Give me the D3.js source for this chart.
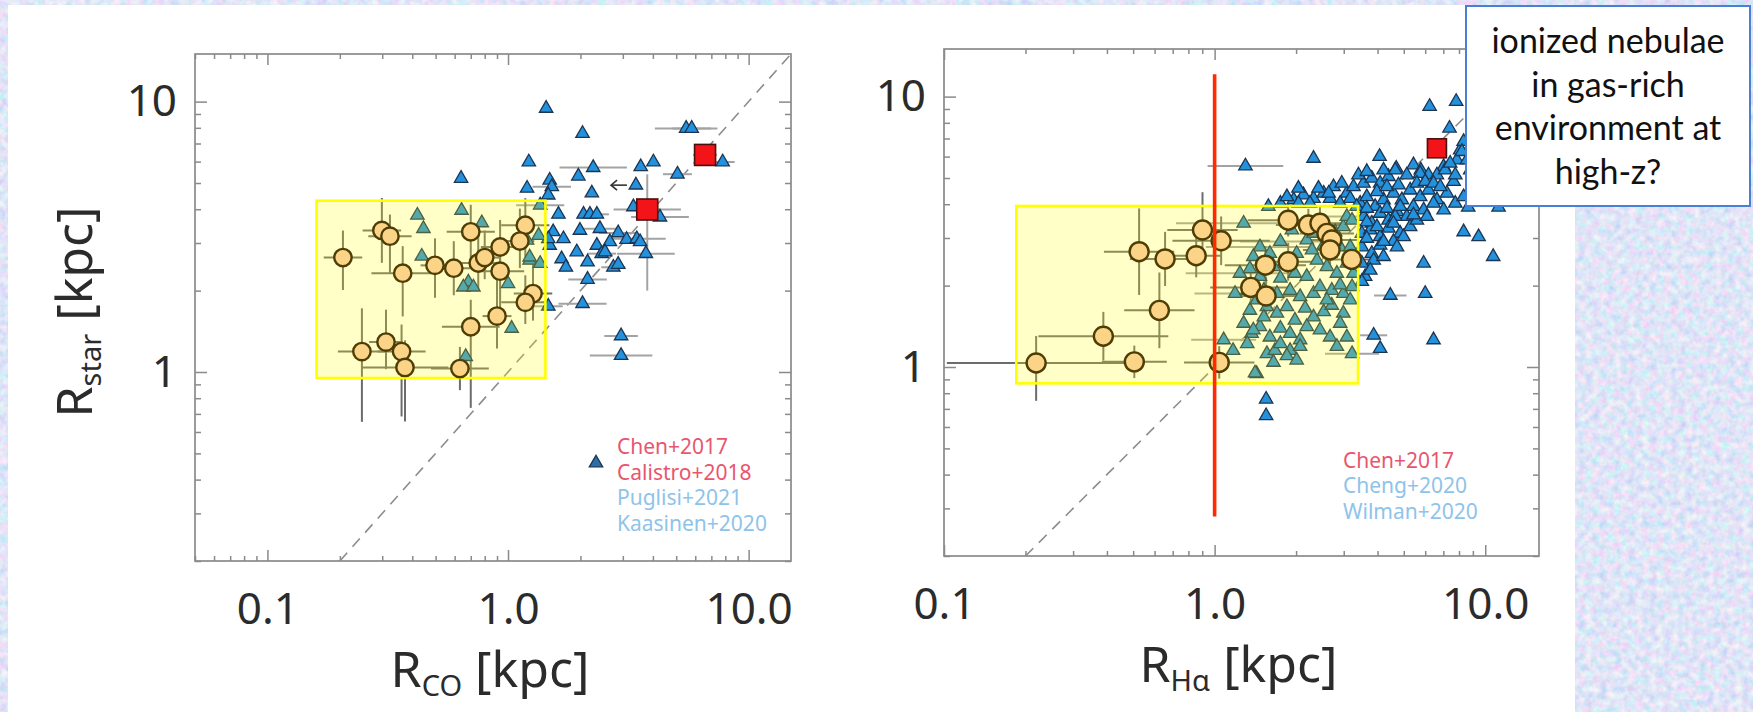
<!DOCTYPE html>
<html>
<head>
  <meta charset="utf-8">
  <title></title>
  <style>
    body { margin: 0; background: #fff; }
    svg { display: block; }
  </style>
  <script src="https://d3js.org/d3.v7.min.js"></script>
</head>
<body>
<svg id="chart" width="1753" height="712"></svg>

<script>
// tick labels, shared by both panels
var xTickVals = [0.1, 1, 10];
var xTickText = ["0.1", "1.0", "10.0"];
var yTickVals = [1, 10];
var yTickText = ["1", "10"];

// ---- left panel: R_CO vs R_star ----
// circles: [R_CO, R_star, x err (dex), y err up (dex), y err down (dex)]
var coCircles = [
  [0.206, 2.65, 0.08, 0.10, 0.12], [0.299, 3.34, 0.08, 0.12, 0.12], [0.323, 3.18, 0.09, 0.08, 0.14],
  [0.365, 2.32, 0.13, 0.10, 0.16], [0.497, 2.48, 0.06, 0.10, 0.12], [0.595, 2.42, 0.07, 0.10, 0.10],
  [0.70, 3.30, 0.10, 0.10, 0.12], [0.752, 2.53, 0.10, 0.12, 0.10], [0.80, 2.65, 0.06, 0.10, 0.08],
  [0.927, 2.90, 0.08, 0.10, 0.10], [0.927, 2.36, 0.10, 0.08, 0.14], [1.18, 3.49, 0.10, 0.10, 0.12],
  [1.12, 3.05, 0.06, 0.12, 0.10], [1.27, 1.95, 0.08, 0.12, 0.10], [1.18, 1.81, 0.10, 0.10, 0.08],
  [0.90, 1.61, 0.06, 0.18, 0.12], [0.70, 1.47, 0.12, 0.10, 0.30], [0.247, 1.19, 0.10, 0.16, 0.26],
  [0.311, 1.29, 0.07, 0.12, 0.10], [0.361, 1.19, 0.10, 0.10, 0.24], [0.373, 1.04, 0.18, 0.10, 0.20],
  [0.631, 1.03, 0.12, 0.08, 0.08]
];
// triangles: [R_CO, R_star, x err (dex)]
var coTriangles = [
  [1.44, 9.44, 0], [2.04, 7.62, 0], [0.638, 5.20, 0], [1.22, 5.98, 0], [2.26, 5.70, 0.14], [1.96, 5.30, 0],
  [3.56, 5.74, 0], [4.02, 5.98, 0], [5.06, 5.39, 0.06], [7.80, 5.98, 0.05], [5.50, 7.96, 0.13], [5.80, 7.96, 0.08],
  [1.20, 4.78, 0], [1.49, 5.12, 0], [1.52, 4.84, 0.08], [1.47, 4.51, 0], [2.23, 4.59, 0], [3.40, 4.91, 0],
  [1.36, 4.14, 0.1], [1.62, 3.83, 0], [2.06, 3.83, 0], [2.19, 3.83, 0], [2.34, 3.83, 0.05], [3.32, 4.08, 0],
  [4.28, 3.74, 0.12], [2.41, 3.39, 0.08], [1.99, 3.34, 0], [1.54, 3.30, 0], [1.70, 3.11, 0], [1.49, 2.94, 0],
  [2.87, 3.27, 0.08], [2.65, 3.03, 0], [3.11, 3.09, 0], [3.43, 3.11, 0.12], [3.54, 3.03, 0], [2.34, 2.94, 0],
  [1.93, 2.78, 0], [2.45, 2.74, 0.06], [2.53, 2.78, 0], [3.74, 2.74, 0.12], [1.67, 2.62, 0], [1.74, 2.44, 0],
  [2.14, 2.55, 0], [2.74, 2.44, 0.05], [2.87, 2.50, 0], [2.14, 2.20, 0.08], [1.47, 1.75, 0.06], [2.04, 1.79, 0.1],
  [2.95, 1.36, 0.07], [2.95, 1.15, 0.13], [1.23, 2.59, 0], [1.36, 2.52, 0], [1.47, 3.11, 0],
  [0.42, 3.80, 0], [0.445, 3.39, 0], [0.641, 3.96, 0], [0.778, 3.56, 0], [0.438, 2.68, 0], [0.684, 2.15, 0],
  [0.652, 2.06, 0], [0.718, 2.06, 0], [1.00, 2.12, 0], [1.035, 1.45, 0], [1.23, 2.66, 0], [0.667, 1.14, 0],
  [1.20, 3.07, 0], [1.34, 3.20, 0]
];
// squares: [R_CO, R_star, x err, y err up, y err down] (dex)
var coSquares = [[6.59, 6.35, 0.05, 0.02, 0.02], [3.79, 3.99, 0.14, 0.13, 0.30]];
// upper limit arrow: [R_CO, R_star, arrow tip R_CO]
var coLimits = [[3.40, 4.91, 2.68]];
var coBox = [0.16, 1.43, 0.95, 4.3];
var coLegend = ["Chen+2017", "Calistro+2018", "Puglisi+2021", "Kaasinen+2020"];

// ---- right panel: R_Halpha vs R_star ----
var haCircles = [
  [0.219, 1.035, 0.33, 0.10, 0.14], [0.388, 1.30, 0.24, 0.09, 0.09], [0.505, 1.045, 0.12, 0.06, 0.06],
  [0.625, 1.62, 0.13, 0.14, 0.14], [0.526, 2.67, 0.13, 0.16, 0.16], [0.656, 2.51, 0.13, 0.10, 0.10],
  [0.855, 2.58, 0.09, 0.08, 0.08], [0.902, 3.21, 0.13, 0.14, 0.07], [1.057, 2.93, 0.18, 0.09, 0.09],
  [1.04, 1.04, 0.13, 0.06, 0.06], [1.54, 2.38, 0.15, 0.07, 0.07], [1.87, 2.45, 0.12, 0.07, 0.07],
  [1.36, 1.97, 0.15, 0.08, 0.08], [1.55, 1.83, 0.12, 0.07, 0.07], [1.87, 3.49, 0.15, 0.06, 0.06],
  [2.22, 3.35, 0.12, 0.06, 0.06], [2.45, 3.40, 0.12, 0.06, 0.06], [2.60, 3.12, 0.10, 0.06, 0.06],
  [2.71, 2.95, 0.10, 0.06, 0.06], [2.67, 2.71, 0.10, 0.06, 0.06], [3.21, 2.50, 0.10, 0.06, 0.06]
];
var haTriangles = [
  [6.23, 9.19, 0], [7.81, 9.59, 0], [7.38, 7.64, 0], [2.32, 5.91, 0], [4.07, 6.00, 0], [1.30, 5.54, 0.14],
  [4.69, 5.43, 0], [5.43, 5.59, 0], [5.78, 5.35, 0], [6.17, 5.13, 0], [7.02, 5.51, 0], [7.86, 5.83, 0],
  [8.08, 6.35, 0], [8.32, 6.82, 0],
  [1.96, 4.15, 0], [2.13, 4.33, 0], [2.32, 4.20, 0], [2.53, 4.39, 0], [2.75, 4.64, 0], [3.08, 4.39, 0],
  [3.26, 4.64, 0], [3.55, 4.78, 0], [3.81, 4.99, 0], [4.09, 4.78, 0], [4.39, 5.06, 0], [4.65, 5.35, 0],
  [5.13, 5.13, 0], [5.75, 5.20, 0], [6.63, 5.13, 0], [7.11, 5.35, 0], [7.42, 5.67, 0], [8.20, 6.26, 0],
  [3.45, 4.03, 0], [3.65, 4.26, 0], [3.92, 3.92, 0], [4.21, 4.15, 0], [4.58, 4.39, 0], [4.92, 4.15, 0],
  [5.28, 4.51, 0], [5.75, 4.26, 0], [6.17, 4.51, 0], [6.63, 4.15, 0], [7.22, 4.39, 0], [7.75, 4.03, 0],
  [8.32, 4.26, 0], [3.55, 3.60, 0], [3.81, 3.40, 0], [4.09, 3.70, 0], [4.39, 3.49, 0], [4.72, 3.75, 0],
  [5.13, 3.60, 0], [5.43, 3.92, 0], [5.92, 3.81, 0], [6.44, 4.03, 0], [3.50, 3.12, 0], [3.76, 3.21, 0],
  [4.09, 3.03, 0], [4.39, 3.26, 0], [4.85, 3.12, 0], [5.28, 3.30, 0], [5.59, 3.49, 0], [3.50, 2.78, 0],
  [3.81, 2.63, 0], [4.09, 2.82, 0], [4.58, 2.91, 0], [4.99, 3.03, 0], [3.50, 2.42, 0], [3.87, 2.48, 0],
  [4.21, 2.56, 0], [3.60, 2.16, 0], [3.50, 2.07, 0], [5.92, 2.42, 0], [8.32, 3.16, 0], [9.45, 3.03, 0],
  [10.7, 2.56, 0], [4.46, 1.84, 0.06], [6.00, 1.87, 0], [3.87, 1.31, 0.05], [4.09, 1.17, 0], [6.44, 1.26, 0],
  [2.04, 4.03, 0], [2.25, 4.03, 0], [2.67, 4.20, 0], [2.91, 4.03, 0], [3.17, 4.20, 0], [3.35, 3.92, 0],
  [2.04, 4.58, 0], [2.42, 4.58, 0], [2.64, 4.39, 0], [2.95, 4.78, 0], [3.40, 5.13, 0], [3.65, 5.28, 0],
  [4.21, 5.35, 0], [3.98, 4.45, 0], [4.33, 4.64, 0], [4.78, 4.71, 0], [5.59, 4.78, 0], [6.00, 4.85, 0],
  [6.44, 4.78, 0], [6.82, 4.64, 0], [7.64, 4.85, 0], [7.75, 5.13, 0], [8.56, 5.83, 0], [8.80, 5.35, 0],
  [3.65, 3.86, 0], [4.33, 3.86, 0], [4.65, 3.60, 0], [4.85, 3.92, 0], [5.43, 3.65, 0], [6.09, 3.60, 0],
  [7.02, 3.81, 0], [3.65, 3.44, 0], [3.98, 3.30, 0], [4.58, 3.40, 0], [4.21, 2.91, 0], [3.65, 2.99, 0],
  [4.72, 2.78, 0], [3.76, 2.28, 0], [1.75, 4.03, 0], [1.58, 3.92, 0], [1.85, 4.26, 0], [8.65, 3.90, 0],
  [11.2, 3.90, 0],
  [1.28, 3.40, 0.25], [1.47, 2.78, 0.2], [1.75, 2.91, 0.15], [1.93, 3.21, 0], [2.19, 2.95, 0], [2.32, 3.12, 0],
  [2.53, 2.82, 0], [2.79, 3.16, 0], [2.99, 3.30, 0], [3.08, 3.60, 0.1], [3.22, 3.49, 0], [1.24, 2.22, 0.2],
  [1.35, 2.31, 0], [1.47, 2.16, 0], [1.65, 2.35, 0], [1.75, 2.13, 0], [1.98, 2.22, 0], [2.19, 2.16, 0],
  [2.39, 2.48, 0], [2.60, 2.35, 0], [2.83, 2.22, 0], [3.08, 2.42, 0], [3.26, 2.22, 0], [1.19, 1.87, 0.15],
  [1.32, 1.92, 0], [1.52, 1.92, 0], [1.70, 1.87, 0], [1.90, 1.92, 0], [2.07, 1.82, 0], [2.32, 1.87, 0],
  [2.45, 1.98, 0], [2.71, 1.92, 0], [2.99, 1.87, 0], [3.22, 1.98, 0], [1.35, 1.62, 0], [1.56, 1.67, 0],
  [1.70, 1.58, 0], [1.85, 1.67, 0], [2.16, 1.65, 0], [2.32, 1.53, 0], [2.53, 1.60, 0], [2.71, 1.69, 0],
  [2.99, 1.58, 0], [3.17, 1.77, 0], [1.08, 1.26, 0.12], [1.37, 1.33, 0], [1.47, 1.41, 0], [1.60, 1.29, 0],
  [1.75, 1.39, 0], [1.90, 1.33, 0], [2.07, 1.26, 0], [2.19, 1.41, 0], [2.45, 1.37, 0], [2.67, 1.29, 0],
  [2.91, 1.45, 0], [1.17, 1.15, 0], [1.32, 1.22, 0], [1.56, 1.12, 0], [1.67, 1.15, 0], [1.90, 1.15, 0],
  [2.07, 1.19, 0], [1.43, 0.945, 0], [1.85, 1.10, 0], [2.01, 1.06, 0], [3.22, 1.12, 0.1], [2.83, 1.19, 0],
  [1.41, 0.95, 0], [1.39, 1.37, 0], [1.55, 0.76, 0], [1.55, 0.66, 0],
  [1.39, 2.56, 0], [1.60, 2.63, 0], [1.85, 2.48, 0], [2.01, 2.63, 0], [2.29, 2.71, 0], [2.67, 2.63, 0],
  [2.91, 2.78, 0], [3.17, 2.78, 0], [1.52, 1.53, 0], [1.98, 1.49, 0], [1.43, 1.77, 0], [2.60, 1.77, 0],
  [2.91, 2.01, 0], [1.75, 1.22, 0], [3.08, 1.29, 0], [1.28, 1.45, 0], [1.65, 1.04, 0]
];
var haSquares = [[6.63, 6.44, 0, 0, 0]];
var haBox = [0.185, 3.39, 0.87, 3.94];
// red cut: [R_Halpha, R_star from, R_star to]
var haCut = [1.0, 0.28, 12.1];
var haLegend = ["Chen+2017", "Cheng+2020", "Wilman+2020"];

var noteLines = ["ionized nebulae", "in gas-rich", "environment at", "high-z?"];

var red = "#e8566e", lightBlue = "#8ec3ea";

var svg = d3.select("#chart");
var defs = svg.append("defs");

// mottled slide background
var tex = defs.append("filter").attr("id", "tex")
    .attr("x", 0).attr("y", 0).attr("width", "100%").attr("height", "100%");
tex.append("feTurbulence").attr("type", "fractalNoise")
    .attr("baseFrequency", "0.14").attr("numOctaves", 3).attr("seed", 7);
tex.append("feColorMatrix").attr("type", "matrix")
    .attr("values", "0.75 0 0 0 0.37  0 0.45 0 0 0.56  0 0 0.14 0 0.86  0 0 0 0 1");

svg.append("rect").attr("width", 1753).attr("height", 712).attr("filter", "url(#tex)");
svg.append("rect").attr("x", 8).attr("y", 5).attr("width", 1567).attr("height", 707).attr("fill", "#fff");

var tri = d3.symbol().type(d3.symbolTriangle).size(78);

function drawPanel(p) {
  var x = d3.scaleLog().domain(p.xDomain).range([p.left, p.right]);
  var y = d3.scaleLog().domain(p.yDomain).range([p.bottom, p.top]);
  var g = svg.append("g");

  defs.append("clipPath").attr("id", "clip-" + p.id)
    .append("rect")
      .attr("x", p.left).attr("y", p.top)
      .attr("width", p.right - p.left).attr("height", p.bottom - p.top);

  var plot = g.append("g").attr("clip-path", "url(#clip-" + p.id + ")");

  // one-to-one line
  plot.append("line")
      .attr("x1", x(0.2)).attr("y1", y(0.2))
      .attr("x2", x(15)).attr("y2", y(15))
      .attr("stroke", "#8c8c8c").attr("stroke-width", 1.6)
      .attr("stroke-dasharray", "11,8");

  function bars(rows, color, w) {
    var b = plot.append("g").attr("stroke", color).attr("stroke-width", w);
    rows.forEach(function(d) {
      var xe = d[2] || 0, yu = d[3] || 0, yd = d[4] || 0;
      if (xe > 0) {
        b.append("line")
          .attr("x1", x(d[0] / Math.pow(10, xe))).attr("x2", x(d[0] * Math.pow(10, xe)))
          .attr("y1", y(d[1])).attr("y2", y(d[1]));
      }
      if (yu > 0 || yd > 0) {
        b.append("line")
          .attr("x1", x(d[0])).attr("x2", x(d[0]))
          .attr("y1", y(d[1] * Math.pow(10, yu))).attr("y2", y(d[1] / Math.pow(10, yd)));
      }
    });
  }

  bars(p.triangles, "#a3a3a3", 2);
  bars(p.squares, "#a3a3a3", 2);
  bars(p.circles, "#6c6c6c", 2);

  plot.append("g").selectAll("path")
    .data(p.triangles)
    .enter().append("path")
      .attr("d", tri)
      .attr("transform", function(d) { return "translate(" + x(d[0]) + "," + y(d[1]) + ")"; })
      .attr("fill", "#2391dc")
      .attr("stroke", "#1b3552")
      .attr("stroke-width", 1.3);

  (p.limits || []).forEach(function(d) {
    var x0 = x(d[0]) - 9, x1 = x(d[2]), yy = y(d[1]);
    plot.append("line").attr("x1", x0).attr("x2", x1).attr("y1", yy).attr("y2", yy)
        .attr("stroke", "#333").attr("stroke-width", 1.6);
    plot.append("path")
        .attr("d", "M" + (x1 + 6) + "," + (yy - 5) + "L" + x1 + "," + yy + "L" + (x1 + 6) + "," + (yy + 5))
        .attr("fill", "none").attr("stroke", "#333").attr("stroke-width", 1.6);
  });

  plot.append("g").selectAll("rect")
    .data(p.squares)
    .enter().append("rect")
      .attr("x", function(d) { return x(d[0]) - p.sq / 2; })
      .attr("y", function(d) { return y(d[1]) - p.sq / 2; })
      .attr("width", p.sq).attr("height", p.sq)
      .attr("fill", "#f21419")
      .attr("stroke", "#4a1010")
      .attr("stroke-width", 1.6);

  // highlighted region, translucent yellow over the points below it
  plot.append("rect")
      .attr("x", x(p.box[0])).attr("y", y(p.box[3]))
      .attr("width", x(p.box[1]) - x(p.box[0]))
      .attr("height", y(p.box[2]) - y(p.box[3]))
      .attr("fill", "rgba(255,255,0,0.22)")
      .attr("stroke", "#ffff00").attr("stroke-width", 2.6);

  plot.append("g").selectAll("circle")
    .data(p.circles)
    .enter().append("circle")
      .attr("cx", function(d) { return x(d[0]); })
      .attr("cy", function(d) { return y(d[1]); })
      .attr("r", p.r)
      .attr("fill", "#fbd487")
      .attr("stroke", "#4f3d06")
      .attr("stroke-width", 2.4);

  if (p.cut) {
    g.append("line")
        .attr("x1", x(p.cut[0])).attr("x2", x(p.cut[0]))
        .attr("y1", y(p.cut[1])).attr("y2", y(p.cut[2]))
        .attr("stroke", "#ff2a00").attr("stroke-width", 3.6);
  }

  // frame with inward ticks on all four sides
  var isMajor = function(v) { return Math.abs(Math.log10(v) - Math.round(Math.log10(v))) < 1e-6; };
  var minorX = x.ticks().filter(function(v) { return !isMajor(v); });
  var minorY = y.ticks().filter(function(v) { return !isMajor(v); });

  function axis(a, tr, vals, size, fmt, pad) {
    g.append("g").attr("transform", tr)
      .call(a.tickValues(vals).tickSizeInner(-size).tickSizeOuter(0).tickPadding(pad || 0).tickFormat(fmt))
      .call(function(s) { s.select(".domain").remove(); });
  }
  var blank = function() { return ""; };
  axis(d3.axisBottom(x), "translate(0," + p.bottom + ")", minorX, 5, blank);
  axis(d3.axisTop(x), "translate(0," + p.top + ")", minorX, 5, blank);
  axis(d3.axisLeft(y), "translate(" + p.left + ",0)", minorY, 6, blank);
  axis(d3.axisRight(y), "translate(" + p.right + ",0)", minorY, 6, blank);
  axis(d3.axisBottom(x), "translate(0," + p.bottom + ")", xTickVals, 11,
       function(d, i) { return xTickText[i]; }, 32);
  axis(d3.axisTop(x), "translate(0," + p.top + ")", xTickVals, 11, blank);
  axis(d3.axisLeft(y), "translate(" + p.left + ",0)", yTickVals, 12,
       function(d, i) { return yTickText[i]; }, 18);
  axis(d3.axisRight(y), "translate(" + p.right + ",0)", yTickVals, 12, blank);

  g.selectAll(".tick line").attr("stroke", "#8a8a8a").attr("stroke-width", 1.5);
  g.selectAll(".tick text")
      .attr("font-family", "'Noto Sans', sans-serif")
      .attr("font-size", 44)
      .attr("fill", "#2b2b2b");

  g.append("rect")
      .attr("x", p.left).attr("y", p.top)
      .attr("width", p.right - p.left).attr("height", p.bottom - p.top)
      .attr("fill", "none").attr("stroke", "#8a8a8a").attr("stroke-width", 1.7);

  // x title with subscript
  var xt = g.append("text")
      .attr("x", (p.left + p.right) / 2 - 3).attr("y", p.bottom + 126)
      .attr("text-anchor", "middle")
      .attr("font-family", "'Noto Sans', sans-serif")
      .attr("font-size", 50).attr("fill", "#2b2b2b");
  xt.append("tspan").text("R");
  xt.append("tspan").attr("font-size", 29).attr("dy", 9).text(p.xSub);
  xt.append("tspan").attr("dy", -9).text(" [kpc]");

  // legend
  var lg = g.append("g")
      .attr("font-family", "'Noto Sans', sans-serif")
      .attr("font-size", 21);
  lg.selectAll("text")
    .data(p.legend)
    .enter().append("text")
      .attr("x", p.legX)
      .attr("y", function(d, i) { return p.legY + i * p.legStep; })
      .attr("fill", function(d, i) { return i < p.legRed ? red : lightBlue; })
      .text(function(d) { return d; });
  if (p.legMarker) {
    lg.append("path").attr("d", tri)
        .attr("transform", "translate(" + p.legMarker[0] + "," + p.legMarker[1] + ")")
        .attr("fill", "#2a6fa8").attr("stroke", "#1b3552").attr("stroke-width", 1.3);
  }
  return g;
}

drawPanel({
  id: "co", left: 195, right: 791, top: 54, bottom: 561,
  xDomain: [0.05, 15], yDomain: [0.2, 15],
  circles: coCircles, triangles: coTriangles, squares: coSquares, limits: coLimits,
  box: coBox, r: 8.7, sq: 21, xSub: "CO",
  legend: coLegend, legX: 617, legY: 454, legStep: 25.6, legRed: 2, legMarker: [596, 463]
});

drawPanel({
  id: "ha", left: 944, right: 1539, top: 49, bottom: 556,
  xDomain: [0.1, 15.8], yDomain: [0.2, 15],
  circles: haCircles, triangles: haTriangles, squares: haSquares,
  box: haBox, cut: haCut, r: 9.5, sq: 19, xSub: "H\u03b1",
  legend: haLegend, legX: 1343, legY: 468, legStep: 25.4, legRed: 1
});

// y title of the left panel
var yt = svg.append("text")
    .attr("transform", "translate(92,312) rotate(-90)")
    .attr("text-anchor", "middle")
    .attr("font-family", "'Noto Sans', sans-serif")
    .attr("font-size", 50).attr("fill", "#2b2b2b");
yt.append("tspan").text("R");
yt.append("tspan").attr("font-size", 29).attr("dy", 9).text("star");
yt.append("tspan").attr("dy", -9).text(" [kpc]");

// call-out box
svg.append("rect")
    .attr("x", 1466).attr("y", 6).attr("width", 284).attr("height", 200)
    .attr("fill", "#fff").attr("stroke", "#4a7fd6").attr("stroke-width", 2);
svg.append("g").selectAll("text")
  .data(noteLines)
  .enter().append("text")
    .attr("x", 1608)
    .attr("y", function(d, i) { return 53 + i * 43.5; })
    .attr("text-anchor", "middle")
    .attr("font-family", "Lato, 'Open Sans', sans-serif")
    .attr("font-size", 34)
    .attr("fill", "#111")
    .text(function(d) { return d; });
</script>
</body>
</html>
